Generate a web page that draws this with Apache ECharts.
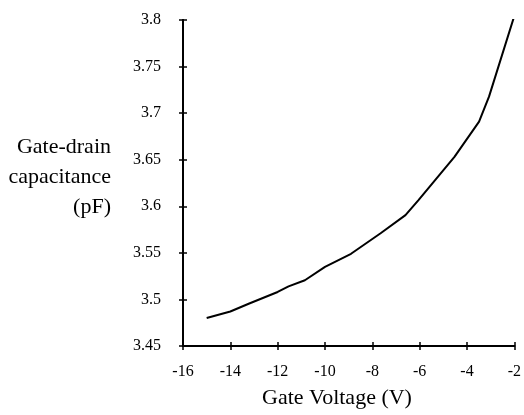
<!DOCTYPE html>
<html>
<head>
    <meta charset="utf-8" />
    <script src="https://cdn.jsdelivr.net/npm/echarts@6/dist/echarts.min.js"></script>
    <style>
        body { margin: 0; background: #fff; }
    </style>
</head>
<body>
<div id="main" style="width: 524px;height:415px;"></div>
<script>
    // gate voltage (V) vs gate-drain capacitance (pF)
    var voltage = [-15, -14, -13.2, -12, -11.54, -10.85, -10, -8.9, -7.65, -6.6, -6.05, -4.53, -3.49, -3.07, -2.03];
    var capacitance = [3.48, 3.487, 3.4956, 3.508, 3.514, 3.5206, 3.535, 3.549, 3.571, 3.5905, 3.6067, 3.653, 3.6909, 3.7177, 3.802];
    var yTitleLines = ['Gate-drain', 'capacitance', '(pF)'];
    var xTitle = 'Gate Voltage (V)';

    var chartDom = document.getElementById('main');
    var myChart = echarts.init(chartDom);
    var font = '"Liberation Serif", "Times New Roman", serif';

    var data = voltage.map(function(v, i) {
        return [v, capacitance[i]];
    });

    var axisCommon = {
        type: 'value',
        axisLine: { onZero: false, lineStyle: { color: '#000', width: 2 } },
        splitLine: { show: false }
    };

    // y title, one line per element so each is right aligned
    var titleGraphics = yTitleLines.map(function(line, i) {
        return {
            type: 'text', x: 111, y: 147 + i * 30,
            style: {
                text: line, align: 'right', verticalAlign: 'middle',
                font: '22px ' + font, fill: '#000'
            }
        };
    });
    titleGraphics.push({
        type: 'text', x: 337, y: 398,
        style: {
            text: xTitle, align: 'center', verticalAlign: 'middle',
            font: '22px ' + font, fill: '#000'
        }
    });

    var option = {
        animation: false,
        backgroundColor: '#fff',
        grid: { left: 183, right: 5, top: 20, bottom: 69 },
        xAxis: [
            Object.assign({}, axisCommon, {
                min: -16, max: -2, interval: 2,
                axisTick: { show: true, length: 4, lineStyle: { color: '#000', width: 1.5 } },
                axisLabel: {
                    color: '#000', fontFamily: font, fontSize: 16, margin: 18,
                    formatter: function(v) { return String(v); }
                }
            }),
            Object.assign({}, axisCommon, {
                position: 'bottom',
                min: -16, max: -2, interval: 2,
                axisTick: { show: true, inside: true, length: 4, lineStyle: { color: '#000', width: 1.5 } },
                axisLabel: { show: false }
            })
        ],
        yAxis: [
            Object.assign({}, axisCommon, {
                min: 3.45, max: 3.8, interval: 0.05,
                axisTick: { show: true, length: 4, lineStyle: { color: '#000', width: 1.5 } },
                axisLabel: {
                    color: '#000', fontFamily: font, fontSize: 16, margin: 22,
                    formatter: function(v) { return String(+v.toFixed(2)); }
                }
            }),
            Object.assign({}, axisCommon, {
                position: 'left',
                min: 3.45, max: 3.8, interval: 0.05,
                axisTick: { show: true, inside: true, length: 4, lineStyle: { color: '#000', width: 1.5 } },
                axisLabel: { show: false }
            })
        ],
        graphic: titleGraphics,
        series: [{
            type: 'line',
            xAxisIndex: 0,
            yAxisIndex: 0,
            data: data,
            symbol: 'none',
            smooth: false,
            lineStyle: { color: '#000', width: 2 }
        }]
    };

    myChart.setOption(option);
</script>
</body>
</html>
